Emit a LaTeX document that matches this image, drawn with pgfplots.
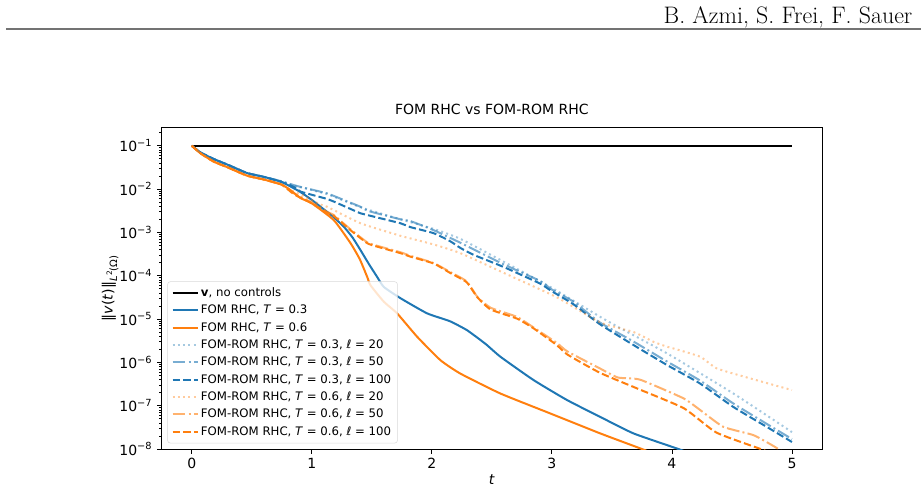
\documentclass[border=0pt]{standalone}
\usepackage{fontspec}
\usepackage{pgfplots}
\pgfplotsset{compat=1.18}
\newfontfamily\djv{DejaVu Sans}
\definecolor{tabblue}{HTML}{1F77B4}
\definecolor{taborange}{HTML}{FF7F0E}

\tikzset{
  mpldashed/.style={dash pattern=on 5.55pt off 2.4pt},
  mpldashdot/.style={dash pattern=on 9.6pt off 2.4pt on 1.5pt off 2.4pt},
  mpldotted/.style={dash pattern=on 1.5pt off 2.475pt},
}

\begin{document}
\begin{tikzpicture}
\path[use as bounding box] (0,0) rectangle (690.75pt,-368.25pt);
% running head of the page
\node[anchor=base east, font=\fontsize{17.9}{20}\selectfont, inner sep=0] at (684.5pt,-18pt) {B. Azmi, S. Frei, F. Sauer};
\draw[line width=1.3pt, black!55] (4.5pt,-21.75pt) -- (690.75pt,-21.75pt);

\begin{axis}[
  at={(121.28pt,-336.75pt)}, anchor=south west,
  scale only axis, width=495.2pt, height=241pt,
  ymode=log,
  xmin=-0.25, xmax=5.25, ymin=1e-8, ymax=0.2606,
  axis line style={line width=0.6pt},
  tick align=outside, xtick pos=bottom, ytick pos=left,
  major tick length=3.5pt, minor tick length=2pt,
  every tick/.style={black, line width=0.6pt},
  minor tick style={line width=0.45pt},
  xtick={0,1,2,3,4,5}, xticklabels={0,1,2,3,4,5},
  ytick={1e-8,1e-7,1e-6,1e-5,1e-4,1e-3,1e-2,1e-1},
  yticklabels={10\textsuperscript{−8},10\textsuperscript{−7},10\textsuperscript{−6},10\textsuperscript{−5},
               10\textsuperscript{−4},10\textsuperscript{−3},10\textsuperscript{−2},10\textsuperscript{−1}},
  minor ytick={
    2e-8,3e-8,4e-8,5e-8,6e-8,7e-8,8e-8,9e-8,
    2e-7,3e-7,4e-7,5e-7,6e-7,7e-7,8e-7,9e-7,
    2e-6,3e-6,4e-6,5e-6,6e-6,7e-6,8e-6,9e-6,
    2e-5,3e-5,4e-5,5e-5,6e-5,7e-5,8e-5,9e-5,
    2e-4,3e-4,4e-4,5e-4,6e-4,7e-4,8e-4,9e-4,
    2e-3,3e-3,4e-3,5e-3,6e-3,7e-3,8e-3,9e-3,
    2e-2,3e-2,4e-2,5e-2,6e-2,7e-2,8e-2,9e-2,
    2e-1},
  ticklabel style={font=\djv\fontsize{10.5}{12}\selectfont},
  title={FOM RHC vs FOM-ROM RHC},
  title style={font=\djv\fontsize{10.5}{12}\selectfont, at={(axis description cs:0.5,1.0146)}, anchor=base, inner sep=0},
  xlabel={\textit{t}},
  xlabel style={font=\djv\fontsize{10.5}{12}\selectfont, at={(axis description cs:0.5,-0.0965)}, anchor=center},
  ylabel={‖\textit{v}(\textit{t})‖\raisebox{-0.32em}{\fontsize{7.6}{8}\selectfont\textit{L}\raisebox{0.5em}{\fontsize{5.6}{6}\selectfont 2}(Ω)}},
  ylabel style={font=\djv\fontsize{10.6}{12}\selectfont, at={(axis description cs:-0.078,0.5)}, anchor=center},
  legend cell align=left,
  legend style={at={(0.0085,0.0177)}, anchor=south west,
    font=\djv\fontsize{8.8}{10}\selectfont,
    draw=black!15, rounded corners=2pt, fill=white, fill opacity=0.8, text opacity=1,
    row sep=0pt, inner xsep=3pt, inner ysep=2pt,
    /tikz/column 2/.style={column sep=3pt},
    nodes={text height=7.2pt, text depth=2.2pt, inner sep=1.8pt}},
  legend image code/.code={\draw[#1] (0pt,0pt) -- (18.75pt,0pt);},
  every axis plot/.append style={line width=1.5pt},
]

% uncontrolled solution
\addplot[black] coordinates {(0,0.1) (1,0.1) (2,0.1) (3,0.1) (4,0.1) (5,0.1)};
\addlegendentry{\textbf{v}, no controls}

% full order model, T = 0.3
\addplot[tabblue, smooth, tension=0.3] coordinates {
(0,1.00e-1) (0.075,6.92e-2) (0.185,4.90e-2) (0.30,3.63e-2) (0.46,2.34e-2)
(0.60,1.91e-2) (0.75,1.45e-2) (0.90,8.71e-3) (1.0,5.62e-3) (1.073,3.89e-3)
(1.17,2.40e-3) (1.267,1.35e-3) (1.34,7.59e-4) (1.406,3.89e-4) (1.48,1.78e-4)
(1.545,9.33e-5) (1.60,5.50e-5) (1.739,3.02e-5) (1.961,1.35e-5) (2.15,8.91e-6)
(2.294,5.50e-6) (2.45,2.63e-6) (2.571,1.35e-6) (2.848,3.89e-7) (3.126,1.35e-7)
(3.403,5.50e-8) (3.680,2.29e-8) (4.054,1.00e-8) (4.2,7.08e-9)};
\addlegendentry{FOM RHC, \textit{T} = 0.3}

% full order model, T = 0.6
\addplot[taborange, smooth, tension=0.3] coordinates {
(0,1.00e-1) (0.075,6.61e-2) (0.185,4.27e-2) (0.30,3.16e-2) (0.46,2.04e-2)
(0.60,1.66e-2) (0.75,1.26e-2) (0.82,9.55e-3) (0.907,6.17e-3) (1.0,4.68e-3)
(1.184,1.91e-3) (1.323,5.62e-4) (1.40,2.40e-4) (1.462,9.33e-5) (1.489,6.03e-5)
(1.600,2.51e-5) (1.711,1.35e-5) (1.878,3.89e-6) (2.072,1.12e-6) (2.238,5.50e-7)
(2.571,1.91e-7) (2.987,6.61e-8) (3.403,2.29e-8) (3.750,1.00e-8) (3.9,6.92e-9)};
\addlegendentry{FOM RHC, \textit{T} = 0.6}

% reduced models, T = 0.3
\addplot[tabblue, draw opacity=0.4, mpldotted, smooth, tension=0.3] coordinates {
(0,1.00e-1) (0.075,6.92e-2) (0.185,4.90e-2) (0.30,3.63e-2) (0.46,2.34e-2)
(0.60,1.91e-2) (0.75,1.50e-2) (0.851,1.20e-2) (1.129,7.59e-3) (1.406,3.80e-3)
(1.739,2.00e-3) (2.016,1.20e-3) (2.238,7.08e-4) (2.6,2.09e-4) (2.987,5.50e-5)
(3.403,1.12e-5) (3.569,6.17e-6) (3.958,1.62e-6) (4.512,1.91e-7) (5.0,2.45e-8)};
\addlegendentry{FOM-ROM RHC, \textit{T} = 0.3, \textit{ℓ} = 20}

\addplot[tabblue, draw opacity=0.6, mpldashdot, smooth, tension=0.3] coordinates {
(0,1.00e-1) (0.075,6.92e-2) (0.185,4.90e-2) (0.30,3.63e-2) (0.46,2.34e-2)
(0.60,1.91e-2) (0.75,1.50e-2) (0.851,1.23e-2) (0.907,1.12e-2) (1.129,7.94e-3)
(1.184,6.92e-3) (1.406,3.89e-3) (1.462,3.16e-3) (1.739,2.00e-3) (1.822,1.82e-3)
(2.016,1.12e-3) (2.238,5.75e-4) (2.6,1.82e-4) (2.9,7.59e-5) (3.0,4.79e-5)
(3.18,2.51e-5) (3.4,8.32e-6) (3.68,3.02e-6) (3.958,1.05e-6) (4.235,3.80e-7)
(4.512,1.12e-7) (4.79,3.80e-8) (5.0,1.70e-8)};
\addlegendentry{FOM-ROM RHC, \textit{T} = 0.3, \textit{ℓ} = 50}

\addplot[tabblue, mpldashed, smooth, tension=0.3] coordinates {
(0,1.00e-1) (0.075,6.92e-2) (0.185,4.90e-2) (0.30,3.63e-2) (0.46,2.34e-2)
(0.60,1.91e-2) (0.75,1.45e-2) (0.851,1.12e-2) (0.907,8.71e-3) (1.129,5.89e-3)
(1.184,5.13e-3) (1.406,2.75e-3) (1.462,2.51e-3) (1.739,1.62e-3) (1.822,1.32e-3)
(2.016,9.55e-4) (2.15,6.31e-4) (2.238,4.37e-4) (2.349,3.02e-4) (2.6,1.58e-4)
(2.9,6.61e-5) (3.0,4.37e-5) (3.18,2.19e-5) (3.4,7.59e-6) (3.68,2.51e-6)
(3.958,8.71e-7) (4.235,3.24e-7) (4.512,9.33e-8) (4.79,3.24e-8) (5.0,1.45e-8)};
\addlegendentry{FOM-ROM RHC, \textit{T} = 0.3, \textit{ℓ} = 100}

% reduced models, T = 0.6
\addplot[taborange, draw opacity=0.4, mpldotted, smooth, tension=0.3] coordinates {
(0,1.00e-1) (0.075,6.61e-2) (0.185,4.27e-2) (0.30,3.16e-2) (0.46,2.04e-2)
(0.60,1.66e-2) (0.75,1.26e-2) (0.82,9.55e-3) (0.907,7.59e-3) (1.073,4.37e-3)
(1.129,3.89e-3) (1.406,1.62e-3) (1.739,8.32e-4) (1.822,7.24e-4) (2.016,5.25e-4)
(2.238,3.31e-4) (2.627,1.07e-4) (3.042,3.16e-5) (3.403,8.32e-6) (3.68,5.01e-6)
(3.85,2.95e-6) (3.96,2.29e-6) (4.013,2.09e-6) (4.235,1.35e-6) (4.374,7.24e-7)
(4.651,4.27e-7) (5.0,2.29e-7)};
\addlegendentry{FOM-ROM RHC, \textit{T} = 0.6, \textit{ℓ} = 20}

\addplot[taborange, draw opacity=0.6, mpldashdot, smooth, tension=0.3] coordinates {
(0,1.00e-1) (0.075,6.61e-2) (0.185,4.27e-2) (0.30,3.16e-2) (0.46,2.04e-2)
(0.60,1.66e-2) (0.75,1.26e-2) (0.851,7.94e-3) (1.0,4.90e-3) (1.129,2.95e-3)
(1.184,2.51e-3) (1.323,1.17e-3) (1.462,5.89e-4) (1.545,4.90e-4) (1.739,3.47e-4)
(1.822,2.88e-4) (2.016,1.95e-4) (2.15,1.23e-4) (2.29,7.41e-5) (2.38,3.24e-5)
(2.49,1.82e-5) (2.71,1.12e-5) (2.85,6.31e-6) (3.04,2.82e-6) (3.13,1.78e-6)
(3.40,7.24e-7) (3.55,4.47e-7) (3.735,3.98e-7) (4.096,1.48e-7) (4.235,7.94e-8)
(4.429,3.24e-8) (4.679,2.09e-8) (4.858,1.12e-8) (4.95,7.59e-9)};
\addlegendentry{FOM-ROM RHC, \textit{T} = 0.6, \textit{ℓ} = 50}

\addplot[taborange, mpldashed, smooth, tension=0.3] coordinates {
(0,1.00e-1) (0.075,6.61e-2) (0.185,4.27e-2) (0.30,3.16e-2) (0.46,2.04e-2)
(0.60,1.66e-2) (0.75,1.26e-2) (0.851,7.59e-3) (1.0,4.68e-3) (1.129,2.82e-3)
(1.184,2.40e-3) (1.323,1.12e-3) (1.462,5.62e-4) (1.545,4.68e-4) (1.739,3.31e-4)
(1.822,2.75e-4) (2.016,1.91e-4) (2.15,1.17e-4) (2.29,7.08e-5) (2.38,3.16e-5)
(2.49,1.66e-5) (2.71,1.02e-5) (2.85,6.03e-6) (3.04,2.51e-6) (3.13,1.51e-6)
(3.40,5.75e-7) (3.735,2.34e-7) (4.10,8.71e-8) (4.37,2.40e-8) (4.73,1.02e-8)
(4.85,7.59e-9)};
\addlegendentry{FOM-ROM RHC, \textit{T} = 0.6, \textit{ℓ} = 100}

\end{axis}
\end{tikzpicture}
\end{document}
